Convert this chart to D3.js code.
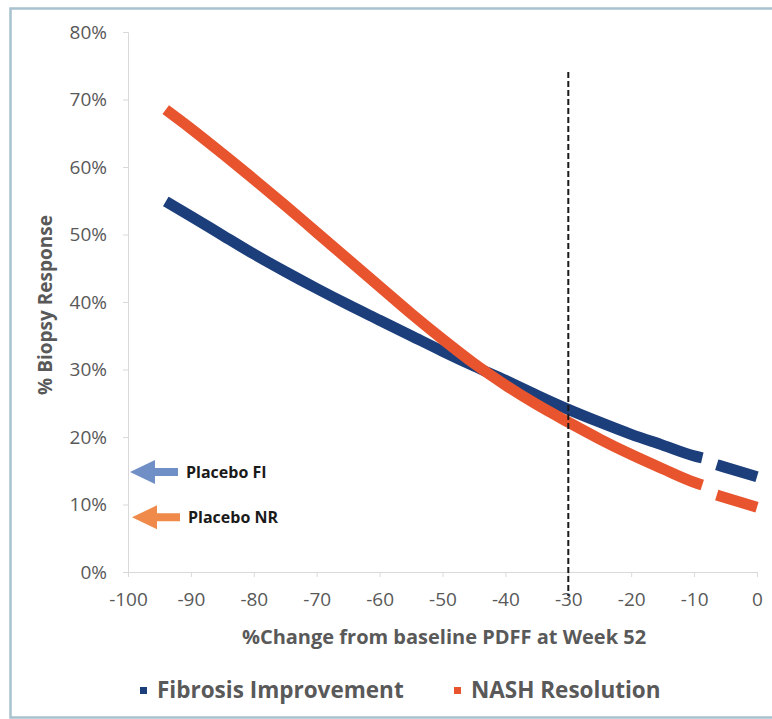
<!DOCTYPE html>
<html>
<head>
<meta charset="utf-8">
<script src="https://cdn.jsdelivr.net/npm/d3@7"></script>
<style>
  html, body { margin: 0; padding: 0; background: #ffffff; }
  svg { display: block; }
</style>
</head>
<body>
<svg id="chart" width="772" height="719"></svg>
<script>
// ---- data ----
const xTicks = [-100, -90, -80, -70, -60, -50, -40, -30, -20, -10, 0];
const yTicks = [0, 10, 20, 30, 40, 50, 60, 70, 80];
const pdffChange = [-94, -90, -85, -80, -75, -70, -65, -60, -55, -50, -45, -40, -35, -30, -25, -20, -15, -10, -8.7, -7.5, -6.4, -5, 0];
const fibrosisImprovement = [54.9, 52.7, 49.9, 47.1, 44.5, 42.0, 39.6, 37.3, 35.0, 32.7, 30.5, 28.4, 26.2, 24.1, 22.2, 20.4, 18.8, 17.2, 16.9, null, 15.9, 15.5, 14.1];
const nashResolution = [68.5, 65.7, 62.0, 58.2, 54.3, 50.3, 46.3, 42.3, 38.3, 34.5, 30.9, 27.7, 24.8, 22.2, 19.7, 17.4, 15.3, 13.3, 12.9, null, 11.4, 11.0, 9.6];
const seriesNames = ["Fibrosis Improvement", "NASH Resolution"];
const seriesColors = ["#1c3f7c", "#e8542d"];
const placeboLabels = ["Placebo FI", "Placebo NR"];
const placeboValues = [14.8, 8.1];
const placeboColors = ["#6f8fc6", "#ef8a4a"];
const referenceX = -30;

// ---- layout ----
const svg = d3.select("#chart");
const plotL = 128, plotR = 757, plotT = 32, plotB = 572;
const x = d3.scaleLinear().domain([-100, 0]).range([plotL, plotR]);
const y = d3.scaleLinear().domain([0, 80]).range([plotB, plotT]);
const fontFam = "'Open Sans', 'DejaVu Sans', sans-serif";
const gray = "#595959";

// frame
svg.append("path")
  .attr("d", "M 775 8.5 L 10.5 8.5 L 10.5 717.5 L 775 717.5")
  .attr("fill", "none").attr("stroke", "#a9c2cf").attr("stroke-width", 2.5);

// axes
const xAxis = d3.axisBottom(x).tickValues(xTicks).tickSize(5).tickPadding(16).tickFormat(d => String(d));
const gx = svg.append("g").attr("transform", `translate(0,${plotB})`).call(xAxis);
gx.select(".domain").attr("stroke", "#d9d9d9");
gx.selectAll(".tick line").attr("stroke", "#d9d9d9");
gx.selectAll(".tick text").attr("fill", gray).attr("font-family", fontFam).attr("font-size", 19);

const yAxis = d3.axisLeft(y).tickValues(yTicks).tickSize(5).tickPadding(16).tickFormat(d => d + "%");
const gy = svg.append("g").attr("transform", `translate(${plotL},0)`).call(yAxis);
gy.select(".domain").attr("stroke", "#d9d9d9");
gy.selectAll(".tick line").attr("stroke", "#d9d9d9");
gy.selectAll(".tick text").attr("fill", gray).attr("font-family", fontFam).attr("font-size", 19);

// series lines
const series = [fibrosisImprovement, nashResolution];
series.forEach((vals, si) => {
  const line = d3.line()
    .defined((d, i) => vals[i] !== null)
    .x((d) => x(d))
    .y((d, i) => y(vals[i]))
    .curve(d3.curveMonotoneX);
  svg.append("path")
    .datum(pdffChange)
    .attr("d", line)
    .attr("fill", "none")
    .attr("stroke", seriesColors[si])
    .attr("stroke-width", 11);
});

// reference dashed line
svg.append("line")
  .attr("x1", x(referenceX)).attr("x2", x(referenceX))
  .attr("y1", 72).attr("y2", 596)
  .attr("stroke", "#1a1a1a").attr("stroke-width", 2)
  .attr("stroke-dasharray", "6,3");

// placebo arrows
placeboValues.forEach((v, i) => {
  const cy = y(v);
  const tip = x(-100) + 2 + i * 2;
  const headLen = 25, headH = 12, shaftH = 4, shaftEnd = tip + 48;
  const pts = [
    [tip, cy], [tip + headLen, cy - headH], [tip + headLen, cy - shaftH],
    [shaftEnd, cy - shaftH], [shaftEnd, cy + shaftH], [tip + headLen, cy + shaftH],
    [tip + headLen, cy + headH]
  ];
  svg.append("path").attr("d", "M" + pts.join("L") + "Z").attr("fill", placeboColors[i]);
  svg.append("text")
    .attr("x", shaftEnd + 8).attr("y", cy)
    .attr("dy", "0.35em")
    .attr("font-family", fontFam).attr("font-weight", "bold").attr("font-size", 16)
    .attr("fill", "#1a1a1a")
    .text(placeboLabels[i]);
});

// axis titles
svg.append("text")
  .attr("x", 444).attr("y", 637).attr("dy", "0.35em")
  .attr("text-anchor", "middle")
  .attr("font-family", fontFam).attr("font-weight", "bold").attr("font-size", 20)
  .attr("fill", gray)
  .text("%Change from baseline PDFF at Week 52");

svg.append("text")
  .attr("transform", "translate(45,305) rotate(-90)")
  .attr("dy", "0.35em")
  .attr("text-anchor", "middle")
  .attr("font-family", fontFam).attr("font-weight", "bold").attr("font-size", 19)
  .attr("fill", gray)
  .text("% Biopsy Response");

// legend
const legendX = [140, 454];
seriesNames.forEach((name, i) => {
  svg.append("rect")
    .attr("x", legendX[i]).attr("y", 687).attr("width", 7).attr("height", 7)
    .attr("fill", seriesColors[i]);
  svg.append("text")
    .attr("x", legendX[i] + 17).attr("y", 690).attr("dy", "0.35em")
    .attr("font-family", fontFam).attr("font-weight", "bold").attr("font-size", 22.5)
    .attr("fill", gray)
    .text(name);
});
</script>
</body>
</html>
